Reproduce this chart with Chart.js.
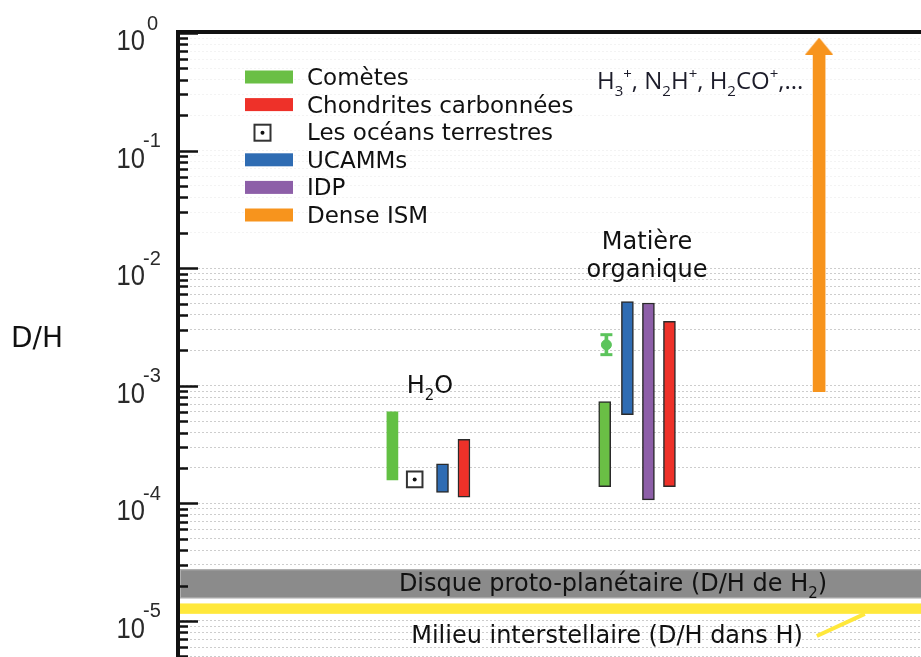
<!DOCTYPE html>
<html>
<head>
<meta charset="utf-8">
<script src="https://cdn.jsdelivr.net/npm/chart.js@4.4.1/dist/chart.umd.min.js"></script>
<style>
  html, body { margin: 0; padding: 0; background: #fff; }
  #wrap { width: 921px; height: 657px; position: relative; }
</style>
</head>
<body>
<div id="wrap"><canvas id="dhChart"></canvas></div>
<script>
// Series shown in the legend
const seriesNames = ['Comètes', 'Chondrites carbonnées', 'Les océans terrestres', 'UCAMMs', 'IDP', 'Dense ISM'];
const seriesColors = ['#6abf45', '#ee3129', '#333333', '#2f6cb3', '#8d5fa8', '#f7941d'];

// D/H ranges, [min, max]
const cometsH2O = [1.58e-4, 6.0e-4];
const oceansH2O = [1.6e-4];
const ucammsH2O = [1.24e-4, 2.17e-4];
const chondritesH2O = [1.13e-4, 3.5e-4];

const cometsOrg = [1.39e-4, 7.35e-4];
const cometsOrgPoint = [1.84e-3, 2.23e-3, 2.72e-3]; // min, value, max
const ucammsOrg = [5.67e-4, 5.2e-3];
const idpOrg = [1.07e-4, 5.06e-3];
const chondritesOrg = [1.39e-4, 3.53e-3];

const denseISM = [8.9e-4, 0.775];
const protoDisk = [1.56e-5, 2.75e-5];
const ismH = [1.15e-5, 1.41e-5];

// y axis
const yDecades = [-6, -5, -4, -3, -2, -1, 0];
const yMin = 4.94e-6, yMax = 1;

// column slots on the hidden x axis (0..35)
const slot = {
    cometsH2O: 10.1, oceansH2O: 11.15, ucammsH2O: 12.46, chondritesH2O: 13.47,
    cometsOrg: 20.1, cometsOrgPoint: 20.18, ucammsOrg: 21.17, idpOrg: 22.16, chondritesOrg: 23.15,
    denseISM: 30.2
};

const GREEN_PT = '#5cc45c';

// arrow head image for the Dense ISM arrow
const arrowHead = document.createElement('canvas');
arrowHead.width = 28; arrowHead.height = 17;
(function () {
    const c = arrowHead.getContext('2d');
    c.fillStyle = seriesColors[5];
    c.beginPath(); c.moveTo(0, 17); c.lineTo(14, 0); c.lineTo(28, 17); c.closePath(); c.fill();
})();

function rangeBar(x, range, color, extra) {
    return Object.assign({
        type: 'bar',
        data: [{ x: x, y: range }],
        backgroundColor: color,
        borderColor: '#2a2a2a',
        borderWidth: 1.5,
        borderSkipped: false,
        barThickness: 12,
        grouped: false
    }, extra || {});
}

function drawRich(ctx, parts, x, y, size, family, align) {
    const small = Math.round(size * 0.62);
    let w = 0;
    parts.forEach(([t, k]) => { ctx.font = (k ? small : size) + 'px ' + family; w += ctx.measureText(t).width; });
    let cx = align === 'center' ? x - w / 2 : x;
    ctx.textAlign = 'left';
    parts.forEach(([t, k]) => {
        ctx.font = (k ? small : size) + 'px ' + family;
        const dy = k === 'sub' ? size * 0.28 : (k === 'sup' ? -size * 0.42 : 0);
        ctx.fillText(t, cx, y + dy);
        cx += ctx.measureText(t).width;
    });
    return cx;
}

// bands behind the bars
const bandsPlugin = {
    id: 'bands',
    beforeDatasetsDraw(chart) {
        const { ctx, chartArea: a, scales: { y } } = chart;
        ctx.save();
        let t = y.getPixelForValue(protoDisk[1]), b = y.getPixelForValue(protoDisk[0]);
        ctx.fillStyle = '#8b8b8b';
        ctx.fillRect(a.left + 2, t, a.right - a.left, b - t);
        ctx.strokeStyle = '#b0b0b0'; ctx.lineWidth = 1;
        ctx.strokeRect(a.left + 2.5, t + 0.5, a.right - a.left, b - t - 1);
        t = y.getPixelForValue(ismH[1]); b = y.getPixelForValue(ismH[0]);
        ctx.fillStyle = '#ffe83b';
        ctx.fillRect(a.left + 2, t, a.right - a.left, b - t);
        ctx.restore();
    }
};

// y axis: inward ticks, 10^n labels, frame
const axisPlugin = {
    id: 'axisDeco',
    afterDraw(chart) {
        const { ctx, chartArea: a, scales: { y } } = chart;
        ctx.save();
        ctx.strokeStyle = '#111';
        ctx.lineWidth = 2.5;
        y.ticks.forEach(tk => {
            const py = Math.round(y.getPixelForValue(tk.value)) + 0.5;
            const len = tk.major ? 20 : 10;
            ctx.beginPath(); ctx.moveTo(a.left, py); ctx.lineTo(a.left + len, py); ctx.stroke();
        });
        // frame
        ctx.lineWidth = 4;
        ctx.beginPath(); ctx.moveTo(a.left, a.top - 1); ctx.lineTo(a.right, a.top - 1); ctx.stroke();
        ctx.beginPath(); ctx.moveTo(a.left, a.top - 3); ctx.lineTo(a.left, a.bottom); ctx.stroke();

        // labels
        ctx.fillStyle = '#2a2a2a';
        ctx.textBaseline = 'alphabetic';
        yDecades.forEach(e => {
            const v = Math.pow(10, e);
            if (v < yMin || v > yMax) return;
            const py = y.getPixelForValue(v);
            ctx.save();
            ctx.translate(145, py + 17);
            ctx.scale(0.88, 1);
            ctx.font = '29px "Liberation Sans", Arial, sans-serif';
            ctx.textAlign = 'right';
            ctx.fillText('10', 0, 0);
            ctx.restore();
            ctx.font = '20px "Liberation Sans", Arial, sans-serif';
            ctx.textAlign = 'left';
            ctx.fillText(e === 0 ? '0' : '-' + Math.abs(e), e === 0 ? 147 : 143, py - 3.5);
        });
        // D/H title
        ctx.fillStyle = '#111';
        ctx.font = '28px "DejaVu Sans", sans-serif';
        ctx.textAlign = 'left';
        ctx.fillText('D/H', 11, 347);
        ctx.restore();
    }
};

// legend and text labels
const labelsPlugin = {
    id: 'labels',
    afterDatasetsDraw(chart) {
        const { ctx, scales: { y } } = chart;
        ctx.save();
        ctx.textBaseline = 'alphabetic';

        // legend
        seriesNames.forEach((name, i) => {
            const cy = 77 + i * 27.6;
            if (i === 2) {
                ctx.fillStyle = '#fff'; ctx.strokeStyle = '#333'; ctx.lineWidth = 2;
                ctx.fillRect(254.5, cy - 7.5, 16, 16);
                ctx.strokeRect(254.5, cy - 7.5, 16, 16);
                ctx.fillStyle = '#111';
                ctx.beginPath(); ctx.arc(262.5, cy + 0.5, 2, 0, Math.PI * 2); ctx.fill();
            } else {
                ctx.fillStyle = seriesColors[i];
                ctx.fillRect(245, cy - 6.5, 48, 13);
            }
            ctx.fillStyle = '#111';
            ctx.font = '23px "DejaVu Sans", sans-serif';
            ctx.textAlign = 'left';
            ctx.fillText(name, 307, cy + 8);
        });

        // H3+, N2H+, H2CO+,...
        ctx.fillStyle = '#1c1c2a';
        drawRich(ctx, [['H'], ['3', 'sub'], ['+', 'sup'], [', N'], ['2', 'sub'], ['H'], ['+', 'sup'],
            [', H'], ['2', 'sub'], ['CO'], ['+', 'sup'], [',...']],
            597, 89, 24, '"Open Sans", "Noto Sans", sans-serif', 'left');

        // group labels
        ctx.fillStyle = '#111';
        ctx.font = '24px "DejaVu Sans", sans-serif';
        ctx.textAlign = 'center';
        ctx.fillText('Matière', 647, 249);
        ctx.fillText('organique', 647, 277);
        drawRich(ctx, [['H'], ['2', 'sub'], ['O']], 430, 393, 24, '"DejaVu Sans", sans-serif', 'center');

        // band captions
        drawRich(ctx, [['Disque proto-planétaire (D/H de H'], ['2', 'sub'], [')']],
            613, 591, 24, '"DejaVu Sans", sans-serif', 'center');
        ctx.font = '24px "DejaVu Sans", sans-serif';
        ctx.textAlign = 'center';
        const milieu = 'Milieu interstellaire (D/H dans H)';
        ctx.fillText(milieu, 607, 643);
        const endX = 607 + ctx.measureText(milieu).width / 2;
        ctx.strokeStyle = '#ffe83b';
        ctx.lineWidth = 4;
        ctx.beginPath();
        ctx.moveTo(endX + 14, 636);
        ctx.lineTo(endX + 62, y.getPixelForValue(ismH[0]));
        ctx.stroke();
        ctx.restore();
    }
};

const datasets = [
    // Dense ISM arrow
    { type: 'line', data: [{ x: slot.denseISM, y: denseISM[1] }], showLine: false,
      pointStyle: arrowHead, pointRadius: 10, order: -3 },
    rangeBar(slot.denseISM, denseISM, seriesColors[5], { borderWidth: 0, order: 5 }),

    // comets, organic matter point with error bar
    { type: 'line', data: [{ x: slot.cometsOrgPoint, y: cometsOrgPoint[1] }], showLine: false,
      pointStyle: 'circle', pointRadius: 5, backgroundColor: GREEN_PT, borderColor: GREEN_PT, order: -2 },
    { type: 'line', data: [{ x: slot.cometsOrgPoint, y: cometsOrgPoint[0] }, { x: slot.cometsOrgPoint, y: cometsOrgPoint[2] }],
      showLine: false, pointStyle: 'line', pointRadius: 6, borderWidth: 3, borderColor: GREEN_PT, order: -2 },
    rangeBar(slot.cometsOrgPoint, [cometsOrgPoint[0], cometsOrgPoint[2]], GREEN_PT, { barThickness: 3, borderWidth: 0, order: -1 }),

    // H2O
    rangeBar(slot.cometsH2O, cometsH2O, '#62c043', { borderWidth: 0, barThickness: 11 }),
    rangeBar(slot.ucammsH2O, ucammsH2O, seriesColors[3]),
    rangeBar(slot.chondritesH2O, chondritesH2O, seriesColors[1]),
    { type: 'line', data: [{ x: slot.oceansH2O, y: oceansH2O[0] }], showLine: false,
      pointStyle: 'rect', pointRadius: 11, borderWidth: 2, borderColor: '#333', backgroundColor: '#fff', order: -2 },
    { type: 'line', data: [{ x: slot.oceansH2O, y: oceansH2O[0] }], showLine: false,
      pointStyle: 'circle', pointRadius: 2, borderWidth: 0, backgroundColor: '#111', order: -3 },

    // organic matter
    rangeBar(slot.cometsOrg, cometsOrg, seriesColors[0]),
    rangeBar(slot.ucammsOrg, ucammsOrg, seriesColors[3]),
    rangeBar(slot.idpOrg, idpOrg, seriesColors[4]),
    rangeBar(slot.chondritesOrg, chondritesOrg, seriesColors[1])
];

new Chart(document.getElementById('dhChart').getContext('2d'), {
    type: 'bar',
    data: { datasets: datasets },
    options: {
        responsive: true,
        maintainAspectRatio: false,
        animation: false,
        events: [],
        layout: { autoPadding: false, padding: { top: 33, right: 0, bottom: 0, left: 0 } },
        plugins: { legend: { display: false }, tooltip: { enabled: false } },
        scales: {
            x: { type: 'linear', min: 0, max: 35, display: false, offset: false },
            y: {
                type: 'logarithmic',
                min: yMin,
                max: yMax,
                afterFit(scale) { scale.width = 178; },
                afterBuildTicks(scale) {
                    const t = [];
                    yDecades.forEach(e => {
                        for (let s = 1; s <= 9; s++) {
                            const v = +(s * Math.pow(10, e)).toPrecision(3);
                            if (v >= yMin && v <= yMax) t.push({ value: v, major: s === 1 });
                        }
                    });
                    scale.ticks = t;
                },
                ticks: { display: false },
                grid: {
                    drawTicks: false,
                    lineWidth: 1,
                    color: c => (c.tick && c.tick.value <= 0.0105) ? '#cdcdcd' : '#f3f3f3'
                },
                border: { display: false, dash: [2, 2] }
            }
        }
    },
    plugins: [bandsPlugin, labelsPlugin, axisPlugin]
});
</script>
</body>
</html>
